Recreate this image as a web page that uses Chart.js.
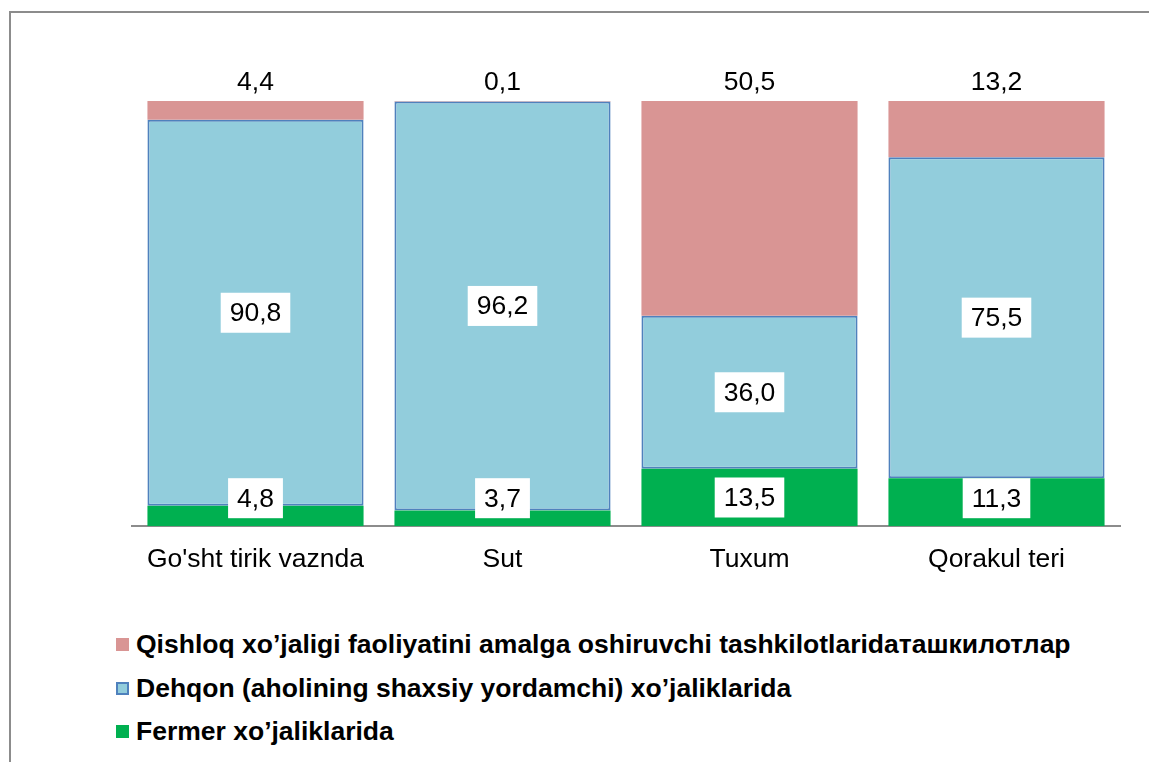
<!DOCTYPE html>
<html>
<head>
<meta charset="utf-8">
<script src="https://cdn.jsdelivr.net/npm/chart.js@4/dist/chart.umd.min.js"></script>
<style>
  body { margin: 0; background: #fff; font-family: Arial, "Liberation Sans", sans-serif; }
  #frame { position: absolute; left: 9px; top: 11px; width: 1160px; height: 800px;
           border-left: 2px solid #8c8c8c; border-top: 2px solid #8c8c8c; }
  #wrap { position: absolute; left: 0; top: 0; width: 1149px; height: 600px; }
  #legend { position: absolute; left: 116px; top: 623px; }
  .item { height: 43.5px; display: flex; align-items: center; font-weight: bold; font-size: 26.5px; color: #000; white-space: nowrap; }
  .item .box { width: 13px; height: 13px; margin-right: 7px; box-sizing: border-box; flex: none; }
</style>
</head>
<body>
<div id="frame"></div>
<div id="wrap"><canvas id="chart"></canvas></div>
<div id="legend"></div>
<script>
const categories = ["Go'sht tirik vaznda", 'Sut', 'Tuxum', 'Qorakul teri'];
const fermer = [4.8, 3.7, 13.5, 11.3];
const dehqon = [90.8, 96.2, 36.0, 75.5];
const qishloq = [4.4, 0.1, 50.5, 13.2];

const seriesNames = [
  'Qishloq xo’jaligi faoliyatini amalga oshiruvchi tashkilotlaridaташкилотлар',
  'Dehqon (aholining shaxsiy yordamchi) xo’jaliklarida',
  'Fermer xo’jaliklarida'
];

const FONT = 'Arial, "Liberation Sans", sans-serif';
const SIZE = 26.5;
Chart.defaults.font.family = FONT;
Chart.defaults.color = '#000';

function fmt(v) {
  return v.toFixed(1).replace('.', ',');
}

// labels: boxed in the middle of segment (kept inside the plot), or above the bar for the top series
const labelPlugin = {
  id: 'valueLabels',
  afterDatasetsDraw(chart) {
    const ctx = chart.ctx;
    const area = chart.chartArea;
    ctx.save();
    ctx.font = SIZE + 'px ' + FONT;
    ctx.textAlign = 'center';
    ctx.textBaseline = 'middle';
    chart.data.datasets.forEach((ds, i) => {
      const meta = chart.getDatasetMeta(i);
      meta.data.forEach((bar, j) => {
        const txt = fmt(ds.data[j]);
        if (ds.labelTop) {
          ctx.fillStyle = '#000';
          ctx.fillText(txt, bar.x, bar.y - 18);
          return;
        }
        const w = ctx.measureText(txt).width + 18;
        const h = 40;
        let cy = (bar.y + bar.base) / 2;
        cy = Math.min(cy, area.bottom - 8 - h / 2);
        ctx.fillStyle = '#fff';
        ctx.fillRect(bar.x - w / 2, cy - h / 2, w, h);
        ctx.fillStyle = '#000';
        ctx.fillText(txt, bar.x, cy + 1);
      });
    });
    ctx.restore();
  }
};

new Chart(document.getElementById('chart'), {
  type: 'bar',
  data: {
    labels: categories,
    datasets: [
      { label: seriesNames[2], data: fermer, backgroundColor: '#00B050', borderWidth: 0 },
      { label: seriesNames[1], data: dehqon, backgroundColor: '#92CDDC', borderColor: '#4F81BD',
        borderWidth: 2, borderSkipped: false },
      { label: seriesNames[0], data: qishloq, backgroundColor: '#D99594', borderWidth: 0, labelTop: true }
    ]
  },
  options: {
    responsive: true,
    maintainAspectRatio: false,
    animation: false,
    layout: { padding: { left: 132, right: 29, top: 101, bottom: 6 } },
    datasets: { bar: { categoryPercentage: 1, barPercentage: 0.875 } },
    scales: {
      x: {
        stacked: true,
        grid: { display: false, drawTicks: false },
        border: { display: true, color: '#8c8c8c', width: 2 },
        ticks: { font: { size: SIZE }, color: '#000', padding: 18, maxRotation: 0 }
      },
      y: {
        stacked: true,
        display: false,
        min: 0,
        max: 100
      }
    },
    plugins: {
      legend: { display: false },
      tooltip: { enabled: false }
    }
  },
  plugins: [labelPlugin]
});

// vertical legend below the chart
const legendColors = [
  { bg: '#D99594', border: 'none' },
  { bg: '#92CDDC', border: '2px solid #4F81BD' },
  { bg: '#00B050', border: 'none' }
];
const legend = document.getElementById('legend');
seriesNames.forEach((name, i) => {
  const item = document.createElement('div');
  item.className = 'item';
  item.innerHTML = `<span class="box" style="background:${legendColors[i].bg};border:${legendColors[i].border}"></span><span>${name}</span>`;
  legend.appendChild(item);
});
</script>
</body>
</html>
